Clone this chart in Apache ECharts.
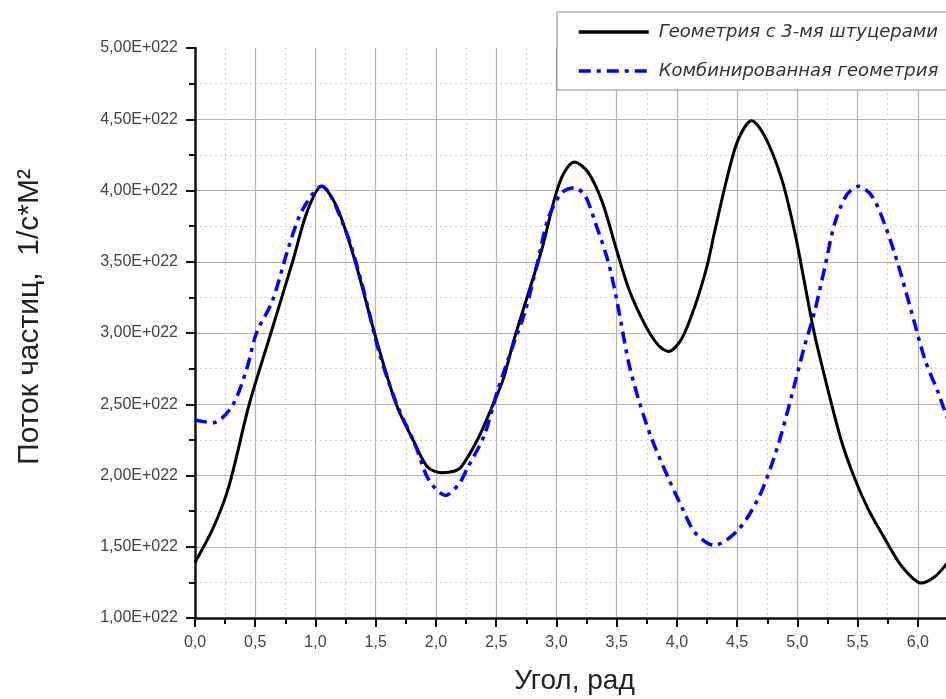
<!DOCTYPE html>
<html>
<head>
<meta charset="utf-8">
<title>Поток частиц</title>
<script src="https://cdn.jsdelivr.net/npm/echarts@6/dist/echarts.min.js"></script>
<style>
  html, body { margin: 0; padding: 0; background: #fff; }
  #chart { width: 946px; height: 699px; }
</style>
</head>
<body>
<div id="chart"></div>
<script>
// угол, рад / поток (в единицах 1E+022)
const blackAngle = [0.00, 0.15, 0.28, 0.45, 0.63, 0.81, 0.93, 1.05, 1.18, 1.33, 1.49, 1.67, 1.81, 1.93, 2.05, 2.15, 2.21, 2.35, 2.46, 2.56, 2.65, 2.76, 2.88, 2.99, 3.06, 3.15, 3.26, 3.38, 3.49, 3.60, 3.74, 3.85, 3.93, 4.04, 4.15, 4.25, 4.31, 4.42, 4.51, 4.62, 4.73, 4.87, 4.98, 5.06, 5.14, 5.26, 5.37, 5.48, 5.59, 5.73, 5.87, 6.03, 6.14, 6.22, 6.28];
const blackFlux = [1.39, 1.63, 1.92, 2.50, 3.00, 3.50, 3.85, 4.03, 3.88, 3.50, 3.00, 2.50, 2.25, 2.06, 2.02, 2.03, 2.06, 2.26, 2.47, 2.68, 2.96, 3.26, 3.59, 3.96, 4.12, 4.20, 4.13, 3.92, 3.61, 3.31, 3.05, 2.91, 2.87, 2.96, 3.19, 3.47, 3.70, 4.10, 4.36, 4.49, 4.38, 4.08, 3.70, 3.35, 3.00, 2.58, 2.23, 1.97, 1.76, 1.55, 1.36, 1.245, 1.29, 1.36, 1.43];

const blueAngle = [0.00, 0.15, 0.31, 0.43, 0.51, 0.64, 0.78, 0.89, 1.05, 1.25, 1.39, 1.53, 1.67, 1.83, 1.94, 2.08, 2.19, 2.26, 2.40, 2.51, 2.63, 2.74, 2.85, 2.93, 3.04, 3.15, 3.24, 3.32, 3.43, 3.51, 3.60, 3.69, 3.79, 3.93, 4.04, 4.15, 4.31, 4.51, 4.67, 4.78, 4.87, 4.98, 5.06, 5.14, 5.23, 5.31, 5.41, 5.51, 5.62, 5.73, 5.84, 5.95, 6.06, 6.17, 6.22, 6.28];
const blueFlux = [2.39, 2.37, 2.49, 2.75, 3.00, 3.22, 3.61, 3.86, 4.03, 3.72, 3.33, 2.86, 2.51, 2.21, 1.97, 1.86, 1.94, 2.05, 2.28, 2.59, 2.89, 3.15, 3.52, 3.80, 3.98, 4.02, 3.96, 3.78, 3.50, 3.19, 2.79, 2.51, 2.26, 1.98, 1.78, 1.60, 1.51, 1.62, 1.83, 2.06, 2.30, 2.65, 2.91, 3.14, 3.47, 3.77, 3.97, 4.03, 3.96, 3.75, 3.47, 3.14, 2.81, 2.58, 2.46, 2.33];

const seriesNames = ['Геометрия с 3-мя штуцерами', 'Комбинированная геометрия'];

function pairs(xs, ys) {
  return xs.map((x, i) => [x, ys[i]]);
}

const chart = echarts.init(document.getElementById('chart'));

chart.setOption({
  animation: false,
  grid: { left: 195, top: 48, width: 759, height: 570, outerBoundsMode: 'none', containLabel: false },
  legend: {
    orient: 'vertical',
    left: 557,
    top: 12,
    padding: [11, 20, 10, 20],
    itemGap: 21,
    itemWidth: 70,
    itemHeight: 14,
    backgroundColor: '#fff',
    borderColor: '#8a8a8a',
    borderWidth: 1,
    borderRadius: 0,
    itemStyle: { opacity: 0 },
    lineStyle: { width: 3.5 },
    textStyle: {
      fontFamily: 'DejaVu Sans',
      fontStyle: 'italic',
      fontSize: 18,
      color: '#333',
      padding: [0, 0, 0, 5]
    },
    data: seriesNames
  },
  xAxis: {
    type: 'value',
    min: 0,
    max: 6.3,
    interval: 0.5,
    name: 'Угол, рад',
    nameLocation: 'middle',
    nameGap: 49,
    nameTextStyle: { fontFamily: 'Liberation Sans', fontSize: 28, color: '#222' },
    axisLine: { show: true, onZero: false, lineStyle: { color: '#111', width: 2.5 } },
    axisTick: { show: true, inside: false, length: 9, lineStyle: { color: '#111', width: 2 } },
    minorTick: { show: true, splitNumber: 2, length: 6, lineStyle: { color: '#111', width: 2 } },
    axisLabel: {
      margin: 17,
      fontFamily: 'Liberation Sans',
      fontSize: 16,
      color: '#444',
      showMaxLabel: false,
      formatter: v => v.toFixed(1).replace('.', ',')
    },
    splitLine: { show: true, showMinLine: false, lineStyle: { color: '#b4b4b4', width: 1.2 } },
    minorSplitLine: { show: true, lineStyle: { color: '#d2d2d2', width: 1, type: [2, 3] } }
  },
  yAxis: {
    type: 'value',
    min: 1,
    max: 5,
    interval: 0.5,
    name: 'Поток частиц,  1/с*М²',
    nameLocation: 'middle',
    nameGap: 150,
    nameTextStyle: { fontFamily: 'Liberation Sans', fontSize: 30, color: '#222', padding: [0, 0, 0, 32] },
    axisLine: { show: true, onZero: false, lineStyle: { color: '#111', width: 2.5 } },
    axisTick: { show: true, inside: false, length: 9, lineStyle: { color: '#111', width: 2 } },
    minorTick: { show: true, splitNumber: 2, length: 6, lineStyle: { color: '#111', width: 2 } },
    axisLabel: {
      margin: 17,
      fontFamily: 'Liberation Sans',
      fontSize: 16,
      color: '#444',
      formatter: v => v.toFixed(2).replace('.', ',') + 'E+022'
    },
    splitLine: { show: true, showMinLine: false, showMaxLine: false, lineStyle: { color: '#b4b4b4', width: 1.2 } },
    minorSplitLine: { show: true, lineStyle: { color: '#d2d2d2', width: 1, type: [2, 3] } }
  },
  series: [
    {
      name: seriesNames[0],
      type: 'line',
      data: pairs(blackAngle, blackFlux),
      symbol: 'none',
      smooth: 0.3,
      itemStyle: { color: '#000' },
      lineStyle: { color: '#000', width: 3 }
    },
    {
      name: seriesNames[1],
      type: 'line',
      data: pairs(blueAngle, blueFlux),
      symbol: 'none',
      smooth: 0.3,
      itemStyle: { color: '#0000ff' },
      lineStyle: { color: '#0000ff', width: 3.5, type: [12, 6, 4, 6] }
    }
  ]
});
</script>
</body>
</html>
